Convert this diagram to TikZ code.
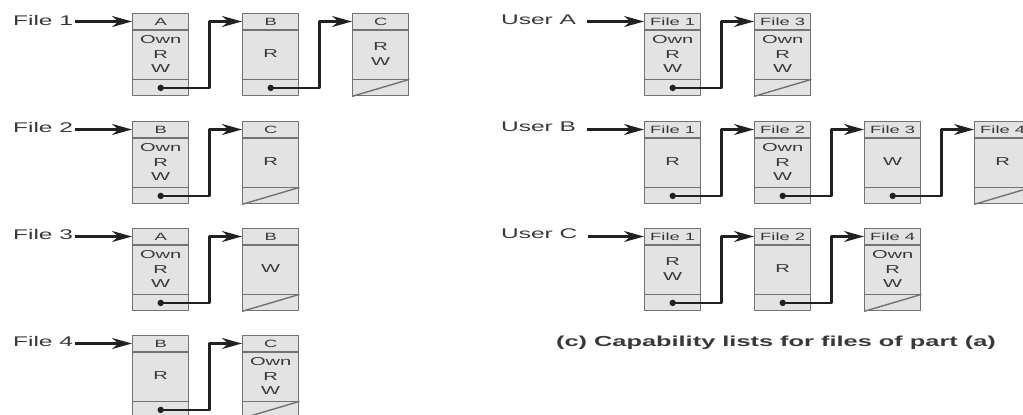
\documentclass[tikz,border=0pt]{standalone}
\usepackage{fontspec}
\setmainfont{Liberation Sans}
\usetikzlibrary{arrows.meta}
\definecolor{cellfill}{gray}{0.89}
\definecolor{celledge}{gray}{0.45}
\definecolor{inkgray}{gray}{0.13}
\definecolor{txtgray}{gray}{0.22}
% one entry of a list: name, top left corner, header, rights
\newcommand{\pcell}[4]{%
	\node[cellbox] (#1) at (#2) {};
	\draw[cellrule] ([yshift=-17pt]#1.north west) -- ([yshift=-17pt]#1.north east)
		([yshift=17pt]#1.south west) -- ([yshift=17pt]#1.south east);
	\node[cellhead] (#1-h) at ([yshift=-8.5pt]#1.north) {#3};
	\node[cellbody] (#1-b) at ([yshift=-41pt]#1.north) {#4};
	\coordinate (#1-in) at ([yshift=-8.5pt]#1.north west);
	\coordinate (#1-nx) at ([yshift=8.5pt]#1.south);
}
% pointer from one entry to the next
\newcommand{\plink}[2]{%
	\fill[inkgray] (#1-nx) circle (3.2pt);
	\draw[ptrlink] (#1-nx) -- ++(49,0) |- (#2-in);
}
% end of list
\newcommand{\pnil}[1]{\draw[cellrule] (#1.south west) -- ([yshift=17pt]#1.south east);}
\begin{document}
\begin{tikzpicture}[x=1pt,y=-1pt,line join=round,>={Stealth[length=20pt,width=11pt]}]
	\tikzset{
		cellbox/.style={draw=celledge,fill=cellfill,line width=1.4pt,anchor=north west,minimum width=56pt,minimum height=82pt,inner sep=0pt},
		cellrule/.style={draw=celledge,line width=1.4pt},
		txt/.style={xscale=1.75,text=txtgray,inner sep=1pt,align=center},
		cellhead/.style={txt,font=\fontsize{10.5}{12}\selectfont},
		cellbody/.style={txt,font=\fontsize{11.5}{14.5}\selectfont},
		listname/.style={txt,anchor=west,font=\fontsize{14}{16}\selectfont},
		ptrlink/.style={->,draw=inkgray,line width=2.5pt}
	}
	\useasboundingbox (0,0) rectangle (1023,415);
	% (b) access control lists
	\node[listname] (file1) at (11,20) {File 1};
	\pcell{f1a}{132,13}{A}{Own\\R\\W}
	\pcell{f1b}{242,13}{B}{R}
	\pcell{f1c}{352,13}{C}{R\\W}
	\draw[ptrlink] (file1.east |- f1a-in) -- (f1a-in);
	\plink{f1a}{f1b} \plink{f1b}{f1c} \pnil{f1c}
	\node[listname] (file2) at (11,127) {File 2};
	\pcell{f2a}{132,121}{B}{Own\\R\\W}
	\pcell{f2b}{242,121}{C}{R}
	\draw[ptrlink] (file2.east |- f2a-in) -- (f2a-in);
	\plink{f2a}{f2b} \pnil{f2b}
	\node[listname] (file3) at (11,234) {File 3};
	\pcell{f3a}{132,228}{A}{Own\\R\\W}
	\pcell{f3b}{242,228}{B}{W}
	\draw[ptrlink] (file3.east |- f3a-in) -- (f3a-in);
	\plink{f3a}{f3b} \pnil{f3b}
	\node[listname] (file4) at (11,341) {File 4};
	\pcell{f4a}{132,335}{B}{R}
	\pcell{f4b}{242,335}{C}{Own\\R\\W}
	\draw[ptrlink] (file4.east |- f4a-in) -- (f4a-in);
	\plink{f4a}{f4b} \pnil{f4b}
	% (c) capability lists
	\node[listname] (usera) at (499,20) {User A};
	\pcell{ua1}{644,13}{File 1}{Own\\R\\W}
	\pcell{ua3}{754,13}{File 3}{Own\\R\\W}
	\draw[ptrlink,shorten <=9pt] (usera.east |- ua1-in) -- (ua1-in);
	\plink{ua1}{ua3} \pnil{ua3}
	\node[listname] (userb) at (499,127) {User B};
	\pcell{ub1}{644,121}{File 1}{R}
	\pcell{ub2}{754,121}{File 2}{Own\\R\\W}
	\pcell{ub3}{864,121}{File 3}{W}
	\pcell{ub4}{974,121}{File 4}{R}
	\draw[ptrlink,shorten <=9pt] (userb.east |- ub1-in) -- (ub1-in);
	\plink{ub1}{ub2} \plink{ub2}{ub3} \plink{ub3}{ub4} \pnil{ub4}
	\node[listname] (userc) at (499,234) {User C};
	\pcell{uc1}{644,228}{File 1}{R\\W}
	\pcell{uc2}{754,228}{File 2}{R}
	\pcell{uc4}{864,228}{File 4}{Own\\R\\W}
	\draw[ptrlink,shorten <=9pt] (userc.east |- uc1-in) -- (uc1-in);
	\plink{uc1}{uc2} \plink{uc2}{uc4} \pnil{uc4}
	\node[txt,font=\bfseries\fontsize{14.5}{16}\selectfont] (caption) at (776,343) {(c) Capability lists for files of part (a)};
\end{tikzpicture}
\end{document}
